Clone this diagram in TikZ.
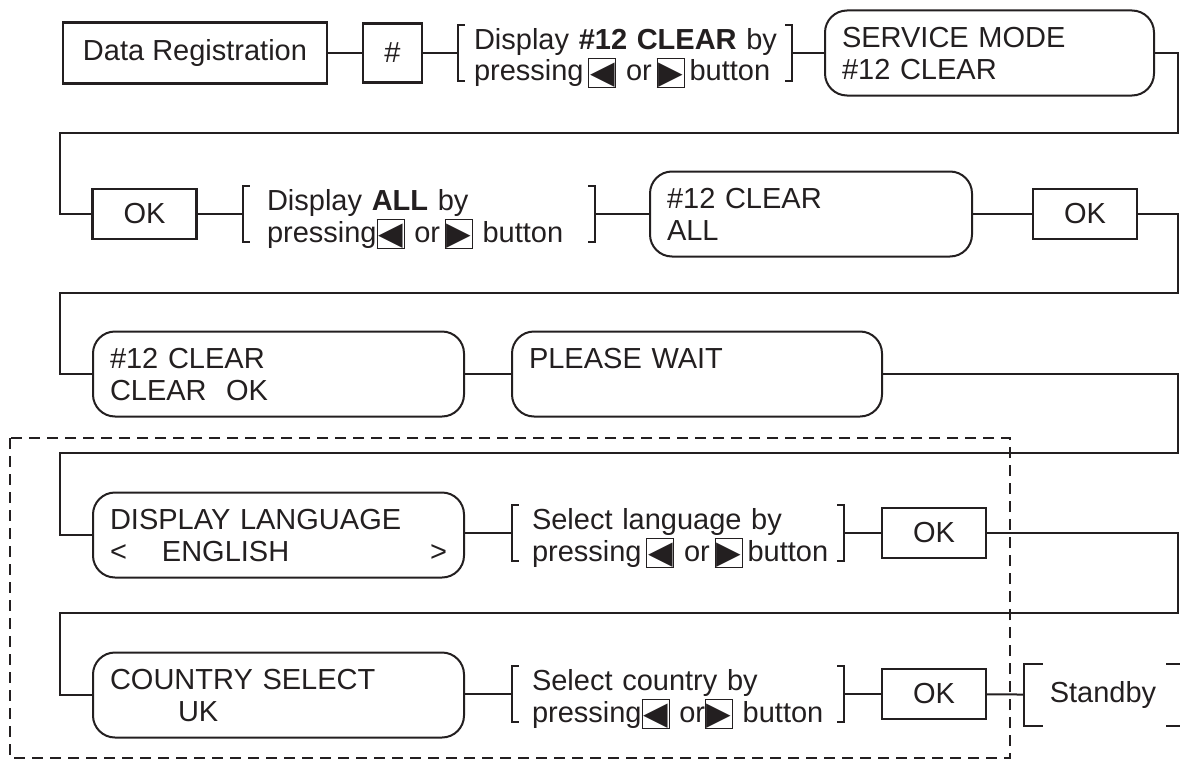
\documentclass[tikz,border=0pt]{standalone}
\usepackage{fontspec}
\usepackage{xcolor}
\setmainfont{Liberation Sans}
\newfontfamily\arrowfont{DejaVu Sans}
\definecolor{inkgray}{RGB}{35, 31, 32}

% small framed cursor keys inside the prompt texts
\newcommand{\keybtn}[1]{{\fboxsep=0pt\fboxrule=1pt\raisebox{-4pt}{\fbox{\makebox[26pt]{\rule{0pt}{26pt}\raisebox{2pt}{\arrowfont\fontsize{32}{32}\selectfont #1}}}}}}
\newcommand{\leftbtn}{\keybtn{◀}}
\newcommand{\rightbtn}{\keybtn{▶}}

\begin{document}
\begin{tikzpicture}[
  x=1pt, y=-1pt,
  color=inkgray,
  font=\fontsize{29}{32}\selectfont,
  keybox/.style={
    draw,
    line width=2.1pt,
    minimum width=104pt,
    minimum height=50pt,
    inner sep=0pt,
  },
  display/.style={
    draw,
    rounded corners=22pt,
    line width=2pt,
    text width=#1,
    align=left,
    inner xsep=17pt,
    inner ysep=0pt,
    text height=37pt,
    text depth=48pt,
  },
  prompt/.style={
    text width=#1,
    align=left,
    inner xsep=12pt,
    inner ysep=0pt,
    text height=24pt,
    text depth=32pt,
  },
  link/.style={line width=2pt},
  bracket/.style={line width=2pt},
  fenced/.style={dash pattern=on 11pt off 7pt, line width=2pt},
]
  \useasboundingbox (0,0) rectangle (1180,760);

  % === ROW 1: enter service mode ===
  \node[keybox, minimum width=264pt, minimum height=61pt] (dreg) at (195,53) {Data Registration};
  \node[keybox, minimum width=59pt, minimum height=59pt] (hash) at (392.5,53) {\#};
  \node[prompt=310pt] (sel-clr) at (625,53) {\hspace*{4pt}Display \textbf{\#12 CLEAR} by\\\hspace*{4pt}pressing\,\leftbtn\ or\,\rightbtn\,button};
  \node[display=295pt] (svc) at (989.5,53) {SERVICE MODE\\\#12 CLEAR};

  \draw[link] (dreg) -- (hash);
  \draw[link] (hash) -- (sel-clr);
  \draw[link] (sel-clr) -- (svc);

  % === ROW 2: choose ALL ===
  \node[keybox] (ok-a) at (144.5,214) {OK};
  \node[prompt=328pt] (sel-all) at (419,214) {\hspace*{12pt}Display \textbf{ALL} by\\\hspace*{12pt}pressing\leftbtn\ or\,\rightbtn\ button};
  \node[display=288pt] (clr-all) at (811,214) {\#12 CLEAR\\ALL};
  \node[keybox] (ok-b) at (1085,214) {OK};

  \coordinate (t1r) at (1178,133);
  \coordinate (t1l) at (60,133);
  \draw[link] (svc.east) -| (t1r) -- (t1l) |- (ok-a.west);
  \draw[link] (ok-a) -- (sel-all);
  \draw[link] (sel-all) -- (clr-all);
  \draw[link] (clr-all) -- (ok-b);

  % === ROW 3: clearing ===
  \node[display=337pt] (clr-ok) at (278.5,374) {\#12 CLEAR\\CLEAR~~OK};
  \node[display=336pt] (wait) at (697,374) {PLEASE WAIT};

  \coordinate (t2r) at (1178,293);
  \coordinate (t2l) at (60,293);
  \draw[link] (ok-b.east) -| (t2r) -- (t2l) |- (clr-ok.west);
  \draw[link] (clr-ok) -- (wait);

  % === ROW 4: display language ===
  \node[display=337pt] (lang) at (278.5,535) {DISPLAY LANGUAGE\\<\hspace{35pt}ENGLISH\hspace{0pt plus 1fill}>};
  \node[prompt=308pt] (sel-lang) at (678,533) {\hspace*{8pt}Select language by\\\hspace*{8pt}pressing\,\leftbtn\ or\,\rightbtn\,button};
  \node[keybox] (ok-c) at (934,533) {OK};

  \coordinate (t3r) at (1178,453);
  \coordinate (t3l) at (60,453);
  \draw[link] (wait.east) -| (t3r) -- (t3l) |- (lang.west);
  \draw[link] (lang.east |- sel-lang) -- (sel-lang);
  \draw[link] (sel-lang) -- (ok-c);

  % === ROW 5: country, then standby ===
  \node[display=337pt] (ctry) at (278.5,695) {COUNTRY SELECT\\\hspace*{68pt}UK};
  \node[prompt=308pt] (sel-ctry) at (678,694) {\hspace*{8pt}Select country by\\\hspace*{8pt}pressing\leftbtn\ or\rightbtn\ button};
  \node[keybox] (ok-d) at (934,694) {OK};
  \node[minimum width=158pt, minimum height=62pt, inner sep=0pt] (stby) at (1103,695) {Standby};

  \coordinate (t4r) at (1178,613);
  \coordinate (t4l) at (60,613);
  \draw[link] (ok-c.east) -| (t4r) -- (t4l) |- (ctry.west);
  \draw[link] (ctry.east |- sel-ctry) -- (sel-ctry);
  \draw[link] (sel-ctry) -- (ok-d);
  \draw[link] (ok-d) -- (stby);

  % square brackets round the prompts
  \foreach \p in {sel-clr, sel-all, sel-lang, sel-ctry} {
    \draw[bracket] ([xshift=7pt]\p.north west) -- (\p.north west) -- (\p.south west) -- ([xshift=7pt]\p.south west);
    \draw[bracket] ([xshift=-7pt]\p.north east) -- (\p.north east) -- (\p.south east) -- ([xshift=-7pt]\p.south east);
  }
  \draw[bracket] ([xshift=19pt]stby.north west) -- (stby.north west) -- (stby.south west) -- ([xshift=19pt]stby.south west);
  \draw[bracket] ([xshift=-16pt]stby.north east) -- (stby.north east) -- (stby.south east) -- ([xshift=-16pt]stby.south east);

  % dashed frame round the language/country part
  \draw[fenced] (10,438) rectangle (1010,758);

\end{tikzpicture}
\end{document}
